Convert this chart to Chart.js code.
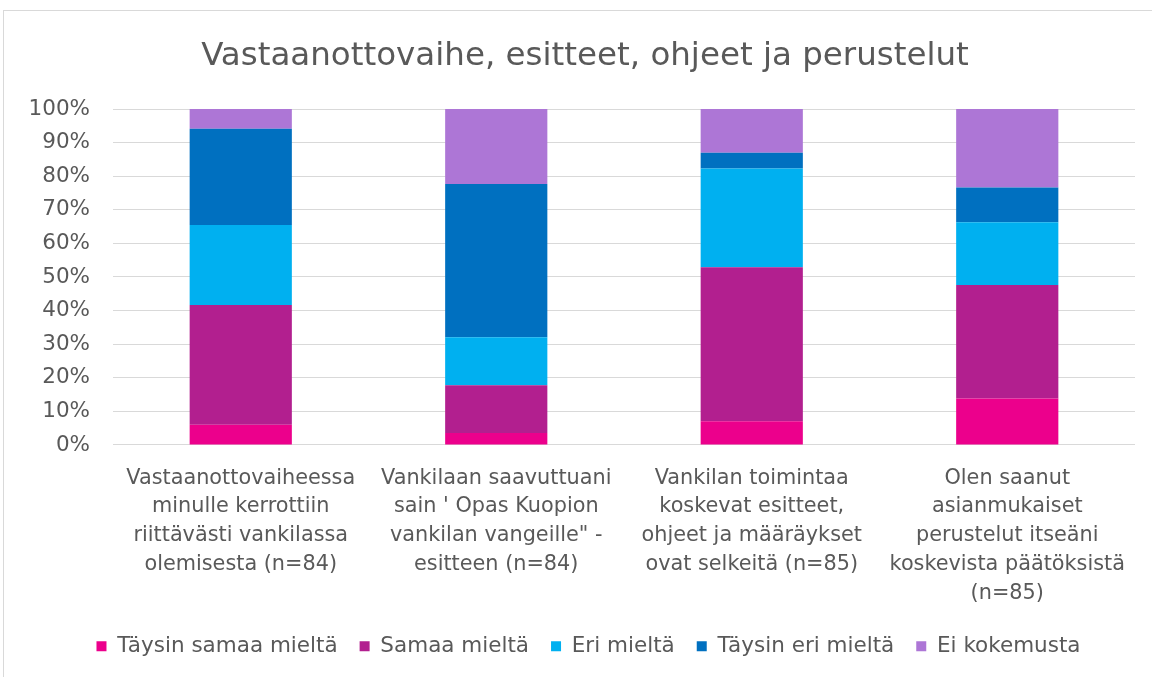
<!DOCTYPE html>
<html>
<head>
<meta charset="utf-8">
<script src="https://cdn.jsdelivr.net/npm/chart.js@4/dist/chart.umd.min.js"></script>
<style>
html,body{margin:0;padding:0;background:#fff;}
#wrap{position:relative;width:1152px;height:677px;}
</style>
</head>
<body>
<div id="wrap"><canvas id="c" width="1152" height="677"></canvas></div>
<script>
const title = "Vastaanottovaihe, esitteet, ohjeet ja perustelut";
const categories = [
  ["Vastaanottovaiheessa", "minulle kerrottiin", "riittävästi vankilassa", "olemisesta (n=84)"],
  ["Vankilaan saavuttuani", "sain ' Opas Kuopion", "vankilan vangeille\" -", "esitteen (n=84)"],
  ["Vankilan toimintaa", "koskevat esitteet,", "ohjeet ja määräykset", "ovat selkeitä (n=85)"],
  ["Olen saanut", "asianmukaiset", "perustelut itseäni", "koskevista päätöksistä", "(n=85)"]
];
const seriesNames = ["Täysin samaa mieltä", "Samaa mieltä", "Eri mieltä", "Täysin eri mieltä", "Ei kokemusta"];
const taysinSamaa = [6.0, 3.6, 7.1, 13.8];
const samaa = [35.7, 14.2, 45.8, 33.8];
const eri = [23.8, 14.3, 29.4, 18.7];
const taysinEri = [28.6, 45.6, 4.7, 10.3];
const eiKokemusta = [5.9, 22.3, 13.0, 23.4];
const yTicks = [0, 10, 20, 30, 40, 50, 60, 70, 80, 90, 100];
const colors = ["#EC008C", "#B21F8F", "#00B0F0", "#0070C0", "#AD76D6"];

const FONT = "'DejaVu Sans', sans-serif";
const TXT = "#595959";

const frame = {
  id: 'frame',
  beforeDraw(chart) {
    const ctx = chart.ctx;
    ctx.save();
    ctx.fillStyle = '#fff';
    ctx.fillRect(0, 0, chart.width, chart.height);
    ctx.strokeStyle = '#d9d9d9';
    ctx.lineWidth = 1;
    ctx.strokeRect(3.5, 10.5, 1160, 700);
    ctx.restore();
  },
  afterLayout(chart) {
    // centre title and legend like the original (slightly right of canvas centre)
    if (chart.titleBlock) chart.titleBlock.left = 35;
    if (chart.legend) { chart.legend.left += 21; chart.legend.right += 21; }
  }
};

const allSeries = [taysinSamaa, samaa, eri, taysinEri, eiKokemusta];
new Chart(document.getElementById('c'), {
  type: 'bar',
  data: {
    labels: categories,
    datasets: allSeries.map((d, i) => ({
      label: seriesNames[i],
      data: d,
      backgroundColor: colors[i],
      borderWidth: 0,
      categoryPercentage: 1.0,
      barPercentage: 0.4
    }))
  },
  options: {
    responsive: false,
    animation: false,
    layout: { padding: { left: 0, right: 17, top: 0, bottom: 10 } },
    plugins: {
      title: {
        display: true, text: title, color: TXT,
        font: { family: FONT, size: 32.5, weight: 'normal' },
        padding: { top: 37, bottom: 33 }
      },
      legend: {
        position: 'bottom',
        labels: {
          color: TXT, font: { family: FONT, size: 21.5 },
          boxWidth: 10, boxHeight: 10, padding: 22
        }
      },
      tooltip: { enabled: false }
    },
    scales: {
      x: {
        stacked: true,
        afterFit(scale) { scale.height -= 13; },
        grid: { display: false, drawTicks: false },
        border: { display: false },
        ticks: { color: TXT, font: { family: FONT, size: 20.8, lineHeight: 1.38 }, padding: 19, maxRotation: 0, autoSkip: false }
      },
      y: {
        stacked: true,
        min: 0, max: 100,
        afterBuildTicks(scale) { scale.ticks = yTicks.map(v => ({ value: v })); },
        afterFit(scale) { scale.width = 113; },
        grid: { color: '#d9d9d9', lineWidth: 1, drawTicks: false },
        border: { display: false },
        ticks: { color: TXT, font: { family: FONT, size: 21.5 }, padding: 23, callback: v => v + '%' }
      }
    }
  },
  plugins: [frame]
});
</script>
</body>
</html>
